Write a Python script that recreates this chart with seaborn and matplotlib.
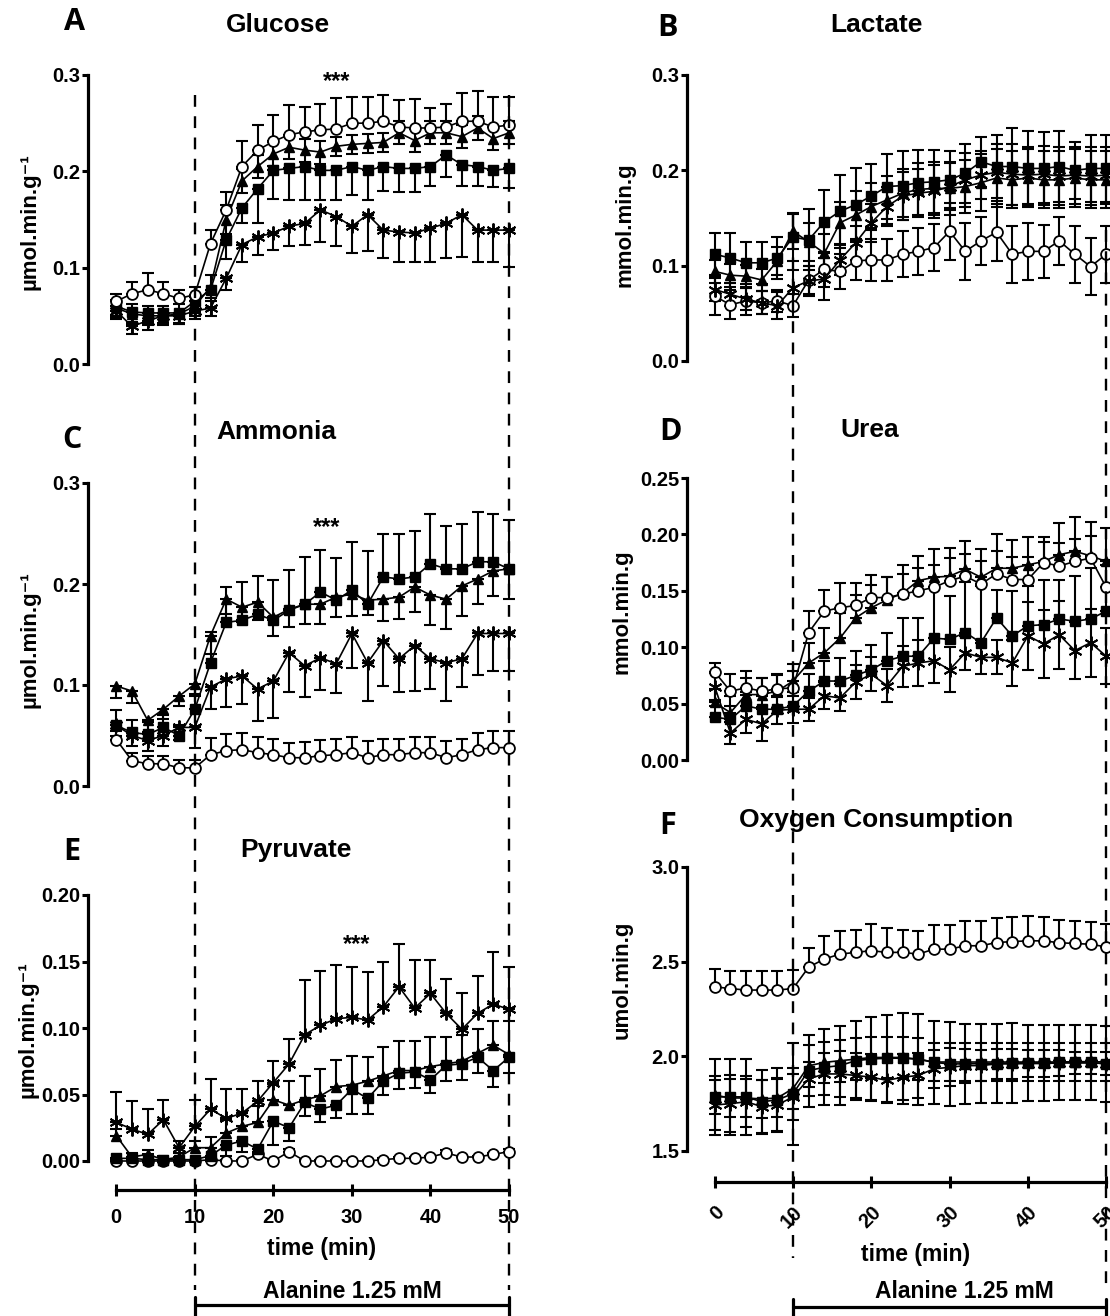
import numpy as np
import matplotlib
matplotlib.use("Agg")
import matplotlib.pyplot as plt
import seaborn as sns
from matplotlib.lines import Line2D
from matplotlib.transforms import blended_transform_factory

# time points (min)
t = [0, 2, 4, 6, 8, 10, 12, 14, 16, 18, 20, 22, 24, 26, 28, 30, 32, 34, 36, 38, 40, 42, 44, 46, 48, 50]

# ---- Glucose ----
glu_circle = [0.065, 0.073, 0.077, 0.073, 0.068, 0.072, 0.125, 0.160, 0.205, 0.222, 0.231, 0.238, 0.241, 0.243, 0.244, 0.250, 0.250, 0.252, 0.246, 0.245, 0.245, 0.246, 0.252, 0.252, 0.246, 0.248]
glu_circle_err = [0.008, 0.012, 0.017, 0.012, 0.009, 0.008, 0.014, 0.019, 0.026, 0.026, 0.027, 0.031, 0.026, 0.027, 0.032, 0.027, 0.027, 0.027, 0.028, 0.030, 0.021, 0.024, 0.029, 0.031, 0.031, 0.029]
glu_square = [0.060, 0.054, 0.053, 0.053, 0.053, 0.065, 0.077, 0.129, 0.162, 0.182, 0.201, 0.203, 0.205, 0.201, 0.201, 0.205, 0.201, 0.205, 0.203, 0.203, 0.205, 0.217, 0.207, 0.205, 0.201, 0.203]
glu_square_err = [0.012, 0.010, 0.010, 0.010, 0.010, 0.012, 0.012, 0.020, 0.016, 0.036, 0.030, 0.033, 0.035, 0.031, 0.031, 0.030, 0.031, 0.025, 0.024, 0.024, 0.020, 0.023, 0.022, 0.020, 0.017, 0.020]
glu_triangle = [0.058, 0.052, 0.050, 0.050, 0.052, 0.060, 0.080, 0.150, 0.190, 0.205, 0.218, 0.225, 0.222, 0.220, 0.226, 0.228, 0.229, 0.230, 0.240, 0.232, 0.240, 0.240, 0.236, 0.245, 0.234, 0.240]
glu_triangle_err = [0.008, 0.010, 0.010, 0.010, 0.010, 0.010, 0.012, 0.015, 0.012, 0.012, 0.012, 0.012, 0.012, 0.012, 0.010, 0.010, 0.010, 0.010, 0.012, 0.012, 0.012, 0.012, 0.012, 0.012, 0.012, 0.012]
glu_star = [0.055, 0.039, 0.045, 0.050, 0.050, 0.055, 0.058, 0.089, 0.124, 0.132, 0.136, 0.143, 0.146, 0.160, 0.153, 0.143, 0.155, 0.139, 0.137, 0.136, 0.141, 0.146, 0.155, 0.139, 0.139, 0.139]
glu_star_err = [0.008, 0.008, 0.010, 0.008, 0.008, 0.008, 0.008, 0.012, 0.018, 0.019, 0.018, 0.020, 0.022, 0.033, 0.031, 0.028, 0.038, 0.029, 0.031, 0.030, 0.035, 0.036, 0.044, 0.033, 0.033, 0.038]

# ---- Lactate ----
lac_square = [0.112, 0.108, 0.103, 0.103, 0.108, 0.130, 0.127, 0.146, 0.157, 0.164, 0.173, 0.183, 0.184, 0.187, 0.188, 0.190, 0.197, 0.209, 0.204, 0.204, 0.202, 0.202, 0.204, 0.200, 0.202, 0.202]
lac_square_err = [0.022, 0.026, 0.022, 0.022, 0.022, 0.025, 0.032, 0.033, 0.038, 0.038, 0.034, 0.034, 0.036, 0.034, 0.033, 0.030, 0.031, 0.026, 0.033, 0.040, 0.039, 0.038, 0.037, 0.030, 0.035, 0.035]
lac_triangle = [0.094, 0.090, 0.089, 0.085, 0.105, 0.136, 0.125, 0.113, 0.145, 0.153, 0.162, 0.169, 0.176, 0.180, 0.181, 0.181, 0.183, 0.187, 0.192, 0.190, 0.192, 0.190, 0.190, 0.192, 0.190, 0.190]
lac_triangle_err = [0.012, 0.012, 0.012, 0.012, 0.015, 0.018, 0.020, 0.020, 0.022, 0.025, 0.025, 0.025, 0.025, 0.028, 0.028, 0.028, 0.028, 0.030, 0.030, 0.030, 0.030, 0.030, 0.030, 0.030, 0.030, 0.030]
lac_star = [0.075, 0.070, 0.065, 0.061, 0.058, 0.077, 0.084, 0.086, 0.106, 0.124, 0.145, 0.162, 0.173, 0.176, 0.178, 0.183, 0.190, 0.195, 0.198, 0.196, 0.195, 0.196, 0.194, 0.195, 0.194, 0.195]
lac_star_err = [0.012, 0.012, 0.012, 0.012, 0.014, 0.018, 0.016, 0.022, 0.016, 0.018, 0.020, 0.020, 0.025, 0.025, 0.028, 0.025, 0.028, 0.025, 0.030, 0.032, 0.030, 0.030, 0.030, 0.030, 0.030, 0.030]
lac_circle = [0.068, 0.059, 0.063, 0.061, 0.063, 0.058, 0.085, 0.096, 0.094, 0.105, 0.106, 0.106, 0.112, 0.115, 0.119, 0.136, 0.115, 0.126, 0.135, 0.112, 0.115, 0.115, 0.126, 0.112, 0.099, 0.112]
lac_circle_err = [0.020, 0.015, 0.015, 0.012, 0.012, 0.012, 0.015, 0.018, 0.018, 0.020, 0.022, 0.022, 0.024, 0.025, 0.025, 0.030, 0.030, 0.025, 0.030, 0.030, 0.030, 0.028, 0.025, 0.030, 0.030, 0.030]

# ---- Ammonia ----
amm_square = [0.060, 0.053, 0.051, 0.058, 0.050, 0.076, 0.122, 0.162, 0.164, 0.170, 0.164, 0.174, 0.180, 0.192, 0.184, 0.194, 0.180, 0.207, 0.205, 0.207, 0.220, 0.215, 0.215, 0.222, 0.222, 0.215]
amm_square_err = [0.015, 0.012, 0.012, 0.012, 0.010, 0.015, 0.030, 0.035, 0.038, 0.038, 0.040, 0.040, 0.047, 0.042, 0.042, 0.048, 0.053, 0.043, 0.045, 0.045, 0.049, 0.042, 0.044, 0.049, 0.047, 0.048]
amm_triangle = [0.099, 0.094, 0.065, 0.076, 0.089, 0.101, 0.149, 0.185, 0.177, 0.182, 0.167, 0.175, 0.180, 0.180, 0.187, 0.190, 0.184, 0.185, 0.187, 0.197, 0.189, 0.185, 0.198, 0.205, 0.213, 0.215]
amm_triangle_err = [0.012, 0.012, 0.012, 0.010, 0.010, 0.012, 0.018, 0.015, 0.015, 0.018, 0.018, 0.018, 0.020, 0.020, 0.020, 0.022, 0.015, 0.022, 0.022, 0.025, 0.030, 0.030, 0.030, 0.025, 0.025, 0.030]
amm_star = [0.060, 0.050, 0.045, 0.050, 0.058, 0.058, 0.098, 0.106, 0.109, 0.096, 0.104, 0.132, 0.119, 0.127, 0.121, 0.151, 0.122, 0.144, 0.126, 0.139, 0.126, 0.122, 0.126, 0.151, 0.151, 0.151]
amm_star_err = [0.010, 0.010, 0.010, 0.010, 0.012, 0.020, 0.022, 0.028, 0.028, 0.032, 0.037, 0.039, 0.031, 0.032, 0.029, 0.034, 0.038, 0.045, 0.033, 0.045, 0.030, 0.038, 0.028, 0.041, 0.037, 0.037]
amm_circle = [0.046, 0.025, 0.022, 0.022, 0.018, 0.018, 0.031, 0.035, 0.036, 0.033, 0.031, 0.028, 0.028, 0.030, 0.031, 0.033, 0.028, 0.031, 0.031, 0.033, 0.033, 0.028, 0.031, 0.036, 0.038, 0.038]
amm_circle_err = [0.008, 0.008, 0.008, 0.008, 0.008, 0.008, 0.017, 0.016, 0.016, 0.016, 0.016, 0.015, 0.016, 0.016, 0.016, 0.016, 0.017, 0.016, 0.016, 0.016, 0.016, 0.017, 0.016, 0.016, 0.016, 0.016]

# ---- Urea ----
urea_circle = [0.078, 0.061, 0.064, 0.061, 0.063, 0.064, 0.113, 0.132, 0.135, 0.137, 0.144, 0.144, 0.147, 0.150, 0.153, 0.159, 0.163, 0.156, 0.165, 0.160, 0.160, 0.175, 0.172, 0.176, 0.179, 0.153]
urea_circle_err = [0.008, 0.015, 0.015, 0.012, 0.012, 0.015, 0.019, 0.019, 0.022, 0.020, 0.020, 0.018, 0.018, 0.020, 0.020, 0.020, 0.020, 0.020, 0.020, 0.020, 0.020, 0.018, 0.020, 0.020, 0.020, 0.020]
urea_triangle = [0.051, 0.042, 0.058, 0.058, 0.061, 0.070, 0.086, 0.095, 0.108, 0.126, 0.135, 0.142, 0.148, 0.159, 0.162, 0.163, 0.169, 0.162, 0.170, 0.170, 0.173, 0.176, 0.182, 0.185, 0.181, 0.176]
urea_triangle_err = [0.012, 0.015, 0.015, 0.015, 0.015, 0.015, 0.018, 0.022, 0.022, 0.020, 0.020, 0.020, 0.025, 0.022, 0.025, 0.025, 0.025, 0.025, 0.030, 0.025, 0.025, 0.022, 0.028, 0.030, 0.030, 0.030]
urea_square = [0.038, 0.036, 0.048, 0.045, 0.045, 0.048, 0.061, 0.070, 0.070, 0.075, 0.080, 0.088, 0.092, 0.092, 0.108, 0.107, 0.113, 0.104, 0.126, 0.110, 0.119, 0.120, 0.125, 0.123, 0.125, 0.132]
urea_square_err = [0.010, 0.012, 0.012, 0.012, 0.012, 0.012, 0.015, 0.018, 0.020, 0.022, 0.022, 0.025, 0.034, 0.034, 0.045, 0.038, 0.045, 0.050, 0.025, 0.040, 0.035, 0.040, 0.035, 0.040, 0.045, 0.045]
urea_star = [0.065, 0.024, 0.036, 0.032, 0.044, 0.045, 0.045, 0.057, 0.055, 0.069, 0.076, 0.066, 0.083, 0.086, 0.088, 0.080, 0.095, 0.091, 0.091, 0.086, 0.110, 0.103, 0.111, 0.097, 0.104, 0.092]
urea_star_err = [0.012, 0.010, 0.012, 0.015, 0.012, 0.012, 0.010, 0.012, 0.012, 0.015, 0.015, 0.015, 0.018, 0.020, 0.020, 0.020, 0.015, 0.015, 0.015, 0.020, 0.030, 0.030, 0.030, 0.025, 0.030, 0.025]

# ---- Pyruvate ----
pyr_star = [0.029, 0.024, 0.020, 0.031, 0.010, 0.026, 0.039, 0.032, 0.036, 0.045, 0.059, 0.073, 0.095, 0.102, 0.107, 0.108, 0.106, 0.116, 0.131, 0.115, 0.126, 0.111, 0.099, 0.111, 0.118, 0.114]
pyr_star_err = [0.023, 0.021, 0.019, 0.015, 0.005, 0.020, 0.023, 0.022, 0.018, 0.015, 0.016, 0.019, 0.041, 0.041, 0.040, 0.038, 0.036, 0.034, 0.032, 0.036, 0.025, 0.026, 0.027, 0.028, 0.039, 0.032]
pyr_triangle = [0.019, 0.003, 0.005, 0.001, 0.003, 0.010, 0.010, 0.021, 0.026, 0.029, 0.046, 0.042, 0.046, 0.049, 0.056, 0.057, 0.060, 0.064, 0.068, 0.068, 0.071, 0.073, 0.075, 0.081, 0.087, 0.080]
pyr_triangle_err = [0.005, 0.003, 0.003, 0.003, 0.003, 0.005, 0.008, 0.010, 0.010, 0.012, 0.012, 0.018, 0.018, 0.020, 0.020, 0.022, 0.018, 0.022, 0.022, 0.022, 0.022, 0.020, 0.020, 0.018, 0.018, 0.025]
pyr_square = [0.002, 0.002, 0.001, 0.001, 0.001, 0.001, 0.004, 0.012, 0.015, 0.009, 0.030, 0.025, 0.044, 0.039, 0.042, 0.054, 0.047, 0.060, 0.066, 0.067, 0.061, 0.072, 0.073, 0.078, 0.068, 0.078]
pyr_square_err = [0.002, 0.002, 0.002, 0.002, 0.002, 0.002, 0.004, 0.008, 0.008, 0.005, 0.018, 0.010, 0.010, 0.010, 0.010, 0.019, 0.012, 0.010, 0.012, 0.012, 0.010, 0.012, 0.012, 0.012, 0.012, 0.012]
pyr_circle = [0.000, 0.000, 0.000, 0.000, 0.000, 0.000, 0.001, 0.000, 0.000, 0.005, 0.000, 0.007, 0.000, 0.000, 0.000, 0.000, 0.000, 0.001, 0.002, 0.002, 0.003, 0.006, 0.003, 0.003, 0.005, 0.007]
pyr_circle_err = [0.001, 0.001, 0.001, 0.001, 0.001, 0.001, 0.001, 0.001, 0.001, 0.002, 0.001, 0.002, 0.001, 0.001, 0.001, 0.001, 0.001, 0.001, 0.001, 0.001, 0.001, 0.002, 0.001, 0.001, 0.001, 0.002]

# ---- Oxygen consumption ----
o2_circle = [2.367, 2.358, 2.350, 2.350, 2.350, 2.358, 2.471, 2.514, 2.540, 2.549, 2.558, 2.549, 2.549, 2.540, 2.566, 2.566, 2.584, 2.584, 2.601, 2.606, 2.610, 2.610, 2.600, 2.596, 2.592, 2.578]
o2_circle_err = [0.095, 0.095, 0.100, 0.100, 0.100, 0.100, 0.100, 0.120, 0.120, 0.120, 0.140, 0.130, 0.120, 0.120, 0.130, 0.130, 0.130, 0.130, 0.130, 0.130, 0.130, 0.125, 0.120, 0.120, 0.120, 0.120]
o2_square = [1.786, 1.786, 1.786, 1.760, 1.770, 1.803, 1.925, 1.942, 1.951, 1.977, 1.986, 1.990, 1.990, 1.985, 1.968, 1.960, 1.960, 1.962, 1.962, 1.965, 1.965, 1.965, 1.968, 1.968, 1.968, 1.960]
o2_square_err = [0.200, 0.200, 0.200, 0.170, 0.170, 0.270, 0.190, 0.200, 0.210, 0.210, 0.220, 0.230, 0.240, 0.240, 0.220, 0.220, 0.210, 0.210, 0.210, 0.210, 0.200, 0.200, 0.200, 0.200, 0.200, 0.200]
o2_triangle = [1.795, 1.780, 1.780, 1.775, 1.780, 1.830, 1.950, 1.968, 1.977, 1.985, 1.994, 1.994, 1.994, 1.985, 1.970, 1.970, 1.970, 1.970, 1.970, 1.970, 1.970, 1.970, 1.970, 1.972, 1.972, 1.970]
o2_triangle_err = [0.100, 0.100, 0.100, 0.100, 0.100, 0.110, 0.110, 0.110, 0.110, 0.110, 0.110, 0.110, 0.110, 0.110, 0.100, 0.100, 0.100, 0.100, 0.100, 0.100, 0.100, 0.100, 0.100, 0.100, 0.100, 0.100]
o2_star = [1.743, 1.750, 1.760, 1.735, 1.743, 1.786, 1.881, 1.907, 1.907, 1.899, 1.890, 1.873, 1.890, 1.899, 1.934, 1.942, 1.951, 1.951, 1.960, 1.960, 1.962, 1.962, 1.965, 1.965, 1.965, 1.962]
o2_star_err = [0.130, 0.150, 0.135, 0.140, 0.140, 0.120, 0.090, 0.110, 0.120, 0.120, 0.120, 0.120, 0.120, 0.120, 0.100, 0.100, 0.090, 0.080, 0.080, 0.080, 0.070, 0.070, 0.070, 0.060, 0.060, 0.060]

x_ticks = [0, 10, 20, 30, 40, 50]

sns.set_style("ticks")
plt.rcParams['font.family'] = ['Liberation Sans', 'DejaVu Sans']
plt.rcParams['font.weight'] = 'bold'
plt.rcParams['text.color'] = 'black'
plt.rcParams['axes.labelcolor'] = 'black'
plt.rcParams['xtick.color'] = 'black'
plt.rcParams['ytick.color'] = 'black'
plt.rcParams['axes.edgecolor'] = 'black'

W, H = 1110, 1316
fig = plt.figure(figsize=(W / 100, H / 100), dpi=100)

def fx(x):
    return x / W

def fy(y):
    return 1 - y / H

def add_ax(x0, x1, ytop, ybot):
    return fig.add_axes([fx(x0), fy(ybot), (x1 - x0) / W, (ybot - ytop) / H])

MARK = {
    'circle': dict(marker='o', markersize=7.8, markerfacecolor='white', markeredgecolor='black', markeredgewidth=1.3),
    'square': dict(marker='s', markersize=7.2, markerfacecolor='black', markeredgecolor='black', markeredgewidth=1.0),
    'triangle': dict(marker='^', markersize=7.8, markerfacecolor='black', markeredgecolor='black', markeredgewidth=1.0),
    'star': dict(marker=(6, 2, 0), markersize=10, markerfacecolor='black', markeredgecolor='black', markeredgewidth=1.4),
}

def draw_series(ax, y, e, way, kind):
    y = np.asarray(y)
    e = np.asarray(e)
    lo = e if way in ('down', 'both') else np.zeros_like(e)
    hi = e if way in ('up', 'both') else np.zeros_like(e)
    cont = ax.errorbar(t, y, yerr=[lo, hi], fmt='none', ecolor='black', elinewidth=1.5,
                       capsize=4.5, capthick=1.5, zorder=2)
    for art in cont.get_children():
        art.set_clip_on(False)
    sns.lineplot(x=t, y=y, ax=ax, color='black', linewidth=1.2, clip_on=False, zorder=3, **MARK[kind])

# panel definitions: (ax extents px), ylim, yticks, fmt, series
left_x = (88, 116.5 + 52 * 7.85, -3.6)
right_x = (687, 714.7 + 52 * 7.83, -3.54)

panels = [
    dict(col=left_x, ytop=75, ybot=364, ylim=(0, 0.3), yticks=[0.0, 0.1, 0.2, 0.3], fmt='{:.1f}',
         ylabel='µmol.min.g⁻¹', ylab_pos=(30, 222), title='Glucose', title_pos=(278, 25),
         letter='A', letter_pos=(75, 22), stars=(28.1, 0.293),
         series=[(glu_star, glu_star_err, 'down', 'star'), (glu_square, glu_square_err, 'down', 'square'),
                 (glu_triangle, glu_triangle_err, 'both', 'triangle'), (glu_circle, glu_circle_err, 'up', 'circle')]),
    dict(col=right_x, ytop=75, ybot=361, ylim=(0, 0.3), yticks=[0.0, 0.1, 0.2, 0.3], fmt='{:.1f}',
         ylabel='mmol.min.g', ylab_pos=(625, 225), title='Lactate', title_pos=(876, 25),
         letter='B', letter_pos=(668, 28), stars=None,
         series=[(lac_circle, lac_circle_err, 'both', 'circle'), (lac_star, lac_star_err, 'both', 'star'),
                 (lac_triangle, lac_triangle_err, 'both', 'triangle'), (lac_square, lac_square_err, 'both', 'square')]),
    dict(col=left_x, ytop=483, ybot=786, ylim=(0, 0.3), yticks=[0.0, 0.1, 0.2, 0.3], fmt='{:.1f}',
         ylabel='µmol.min.g⁻¹', ylab_pos=(30, 640), title='Ammonia', title_pos=(276, 432),
         letter='C', letter_pos=(72, 440), stars=(26.8, 0.256),
         series=[(amm_circle, amm_circle_err, 'up', 'circle'), (amm_star, amm_star_err, 'down', 'star'),
                 (amm_triangle, amm_triangle_err, 'down', 'triangle'), (amm_square, amm_square_err, 'up', 'square')]),
    dict(col=right_x, ytop=478, ybot=760, ylim=(0, 0.25), yticks=[0.0, 0.05, 0.10, 0.15, 0.20, 0.25], fmt='{:.2f}',
         ylabel='mmol.min.g', ylab_pos=(622, 612), title='Urea', title_pos=(870, 430),
         letter='D', letter_pos=(670, 432), stars=None,
         series=[(urea_star, urea_star_err, 'both', 'star'), (urea_square, urea_square_err, 'up', 'square'),
                 (urea_triangle, urea_triangle_err, 'up', 'triangle'), (urea_circle, urea_circle_err, 'up', 'circle')]),
    dict(col=left_x, ytop=895, ybot=1161, ylim=(0, 0.20), yticks=[0.0, 0.05, 0.10, 0.15, 0.20], fmt='{:.2f}',
         ylabel='µmol.min.g⁻¹', ylab_pos=(28, 1030), title='Pyruvate', title_pos=(296, 850),
         letter='E', letter_pos=(72, 852), stars=(30.6, 0.163),
         series=[(pyr_circle, pyr_circle_err, 'up', 'circle'), (pyr_square, pyr_square_err, 'down', 'square'),
                 (pyr_triangle, pyr_triangle_err, 'up', 'triangle'), (pyr_star, pyr_star_err, 'up', 'star')]),
    dict(col=right_x, ytop=867, ybot=1151, ylim=(1.5, 3.0), yticks=[1.5, 2.0, 2.5, 3.0], fmt='{:.1f}',
         ylabel='umol.min.g', ylab_pos=(622, 980), title='Oxygen Consumption', title_pos=(876, 820),
         letter='F', letter_pos=(668, 826), stars=None,
         series=[(o2_star, o2_star_err, 'both', 'star'), (o2_square, o2_square_err, 'both', 'square'),
                 (o2_triangle, o2_triangle_err, 'both', 'triangle'), (o2_circle, o2_circle_err, 'up', 'circle')]),
]

axes = []
for i, p in enumerate(panels):
    x0, x1, xmin = p['col']
    ax = add_ax(x0, x1, p['ytop'], p['ybot'])
    axes.append(ax)
    for y, e, way, kind in p['series']:
        draw_series(ax, y, e, way, kind)
    ax.set_xlim(xmin, 52)
    ax.set_ylim(*p['ylim'])
    ax.set_xlabel('')
    ax.set_ylabel('')
    ax.set_yticks(p['yticks'])
    ax.set_yticklabels([p['fmt'].format(v) for v in p['yticks']], fontsize=14.5, fontweight='bold')
    ax.tick_params(axis='y', direction='out', length=4.5, width=2.2, pad=1, colors='black')
    ax.spines['left'].set_linewidth(2.3)
    ax.spines['left'].set_bounds(*p['ylim'])
    for s in ('top', 'right'):
        ax.spines[s].set_visible(False)
    ax.patch.set_visible(False)
    if i < 4:
        ax.spines['bottom'].set_visible(False)
        ax.set_xticks([])
    else:
        ax.spines['bottom'].set_linewidth(2.3)
        ax.spines['bottom'].set_bounds(0, 50)
        ax.set_xticks(x_ticks)
        ax.tick_params(axis='x', direction='inout', length=9, width=2.2, colors='black')
    fig.text(fx(p['ylab_pos'][0]), fy(p['ylab_pos'][1]), p['ylabel'], rotation=90,
             ha='center', va='center', fontsize=16, fontweight='bold')
    fig.text(fx(p['title_pos'][0]), fy(p['title_pos'][1]), p['title'],
             ha='center', va='center', fontsize=19, fontweight='bold')
    fig.text(fx(p['letter_pos'][0]), fy(p['letter_pos'][1]), p['letter'],
             ha='center', va='center', fontsize=22, fontweight='bold', family=['Open Sans', 'DejaVu Sans'])
    if p['stars']:
        ax.text(p['stars'][0], p['stars'][1], '***', ha='center', va='center', fontsize=17, fontweight='bold')

axE, axF = axes[4], axes[5]
axE.spines['bottom'].set_position(('outward', 21))
axE.set_xticklabels([str(v) for v in x_ticks], fontsize=14.5, fontweight='bold')
axE.tick_params(axis='x', pad=8)
axF.spines['bottom'].set_position(('outward', 22.5))
axF.set_xticklabels([str(v) for v in x_ticks], fontsize=14.5, fontweight='bold',
                    rotation=45, ha='right', rotation_mode='anchor')
axF.tick_params(axis='x', pad=10)

fig.text(fx(322), fy(1248), 'time (min)', ha='center', va='center', fontsize=16.5, fontweight='bold')
fig.text(fx(916), fy(1255), 'time (min)', ha='center', va='center', fontsize=16.5, fontweight='bold')
fig.text(fx(352), fy(1291), 'Alanine 1.25 mM', ha='center', va='center', fontsize=16.5, fontweight='bold')
fig.text(fx(964), fy(1292), 'Alanine 1.25 mM', ha='center', va='center', fontsize=16.5, fontweight='bold')

# dashed markers for the alanine period and the bracket underneath
trL = blended_transform_factory(axes[0].transData, fig.transFigure)
trR = blended_transform_factory(axes[1].transData, fig.transFigure)
dash = dict(color='black', linewidth=1.7, linestyle=(0, (5, 4)))
fig.add_artist(Line2D([10, 10], [fy(95), fy(1290)], transform=trL, **dash))
fig.add_artist(Line2D([50, 50], [fy(95), fy(1290)], transform=trL, **dash))
fig.add_artist(Line2D([10, 10], [fy(215), fy(1258)], transform=trR, **dash))
fig.add_artist(Line2D([50, 50], [fy(230), fy(1290)], transform=trR, **dash))

for tr, yb in ((trL, 1305), (trR, 1307)):
    fig.add_artist(Line2D([10, 50], [fy(yb), fy(yb)], transform=tr, color='black', linewidth=2.3))
    for xe in (10, 50):
        fig.add_artist(Line2D([xe, xe], [fy(yb - 8), fy(yb + 12)], transform=tr, color='black', linewidth=2.3))

fig.savefig('out.png', dpi=100)
